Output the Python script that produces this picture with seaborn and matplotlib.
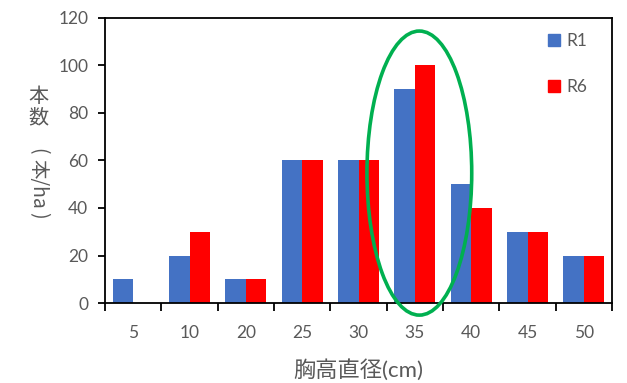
import matplotlib
matplotlib.use("Agg")
import matplotlib.pyplot as plt
from matplotlib.patches import Ellipse
import numpy as np
import pandas as pd
import seaborn as sns

# Diameter classes and stand counts for the two plots
classes = ["5", "10", "20", "25", "30", "35", "40", "45", "50"]
r1_counts = [10, 20, 10, 60, 60, 90, 50, 30, 20]
r6_counts = [0, 30, 10, 60, 60, 100, 40, 30, 20]
series_names = ["R1", "R6"]
y_ticks = [0, 20, 40, 60, 80, 100, 120]

df = pd.DataFrame({
    "径級": classes * 2,
    "本数": r1_counts + r6_counts,
    "区": [series_names[0]] * len(classes) + [series_names[1]] * len(classes),
})

sns.set_style("white")
plt.rcParams["font.family"] = ["Lato", "Noto Sans CJK JP", "DejaVu Sans"]

text_gray = "#595959"
colors = ["#4472C4", "#FF0000"]
W, H = 627, 383
fig = plt.figure(figsize=(W / 100, H / 100), dpi=100)
ax = fig.add_axes([105 / W, 1 - 303 / H, (612 - 105) / W, (303 - 18) / H])

sns.barplot(data=df, x="径級", y="本数", hue="区", order=classes,
            hue_order=series_names, palette=colors, saturation=1,
            width=0.733, errorbar=None, linewidth=0, ax=ax, legend=False)

ax.set_xlim(-0.5, len(classes) - 0.5)
ax.set_ylim(0, 120)
ax.set_yticks(y_ticks)
ax.set_yticklabels([str(v) for v in y_ticks], fontsize=12.5, color=text_gray)

# Tick marks sit between categories; labels sit at the category centres
ax.set_xticks(np.arange(-0.5, len(classes), 1))
ax.set_xticklabels([])
ax.set_xticks(np.arange(len(classes)), minor=True)
ax.set_xticklabels(classes, minor=True, fontsize=12.5, color=text_gray)
ax.tick_params(axis="x", which="major", direction="out", length=6, width=1.3,
               color="black", bottom=True)
ax.tick_params(axis="x", which="minor", length=0, pad=16)
ax.tick_params(axis="y", direction="out", length=5, width=1.3, color="black",
               left=True, pad=7)

for s in ax.spines.values():
    s.set_visible(True)
    s.set_color("black")
    s.set_linewidth(1.3)

ax.set_ylabel("")
ax.set_xlabel("胸高直径(cm)", fontsize=16, color=text_gray)
ax.xaxis.set_label_coords(0.5, -0.235)
ax.xaxis.label.set_va("center")

# Vertical y-axis title: CJK upright, bracketed unit turned sideways
cjk = ["Noto Sans CJK JP", "DejaVu Sans"]
ylabel_parts = [("本", 97, 0), ("数", 118, 0), ("(", 151, -90),
                ("本/ha", 184, -90), (")", 215, -90)]
for txt, ypix, rot in ylabel_parts:
    fig.text(38 / W, 1 - ypix / H, txt, fontsize=14.5 if rot == 0 else 14,
             color=text_gray, ha="center", va="center", rotation=rot,
             family=cjk)

# Legend with square swatches
handles = [plt.Rectangle((0, 0), 1, 1, color=c) for c in colors]
leg = ax.legend(handles, series_names, loc="upper left",
                bbox_to_anchor=((548 - 105) / 507, (303 - 33) / 285),
                frameon=False, handlelength=0.7, handleheight=0.7,
                handletextpad=0.35, labelspacing=1.75, borderpad=0,
                borderaxespad=0, fontsize=12.5)
for t in leg.get_texts():
    t.set_color(text_gray)

# Highlight ring around the 35 cm class
idx = classes.index("35")
ring = Ellipse((idx + 0.08, 54.7), width=1.86, height=119.6, fill=False,
               edgecolor="#00B050", linewidth=2.6, clip_on=False, zorder=5)
ax.add_patch(ring)

fig.savefig("out.png", dpi=100)
